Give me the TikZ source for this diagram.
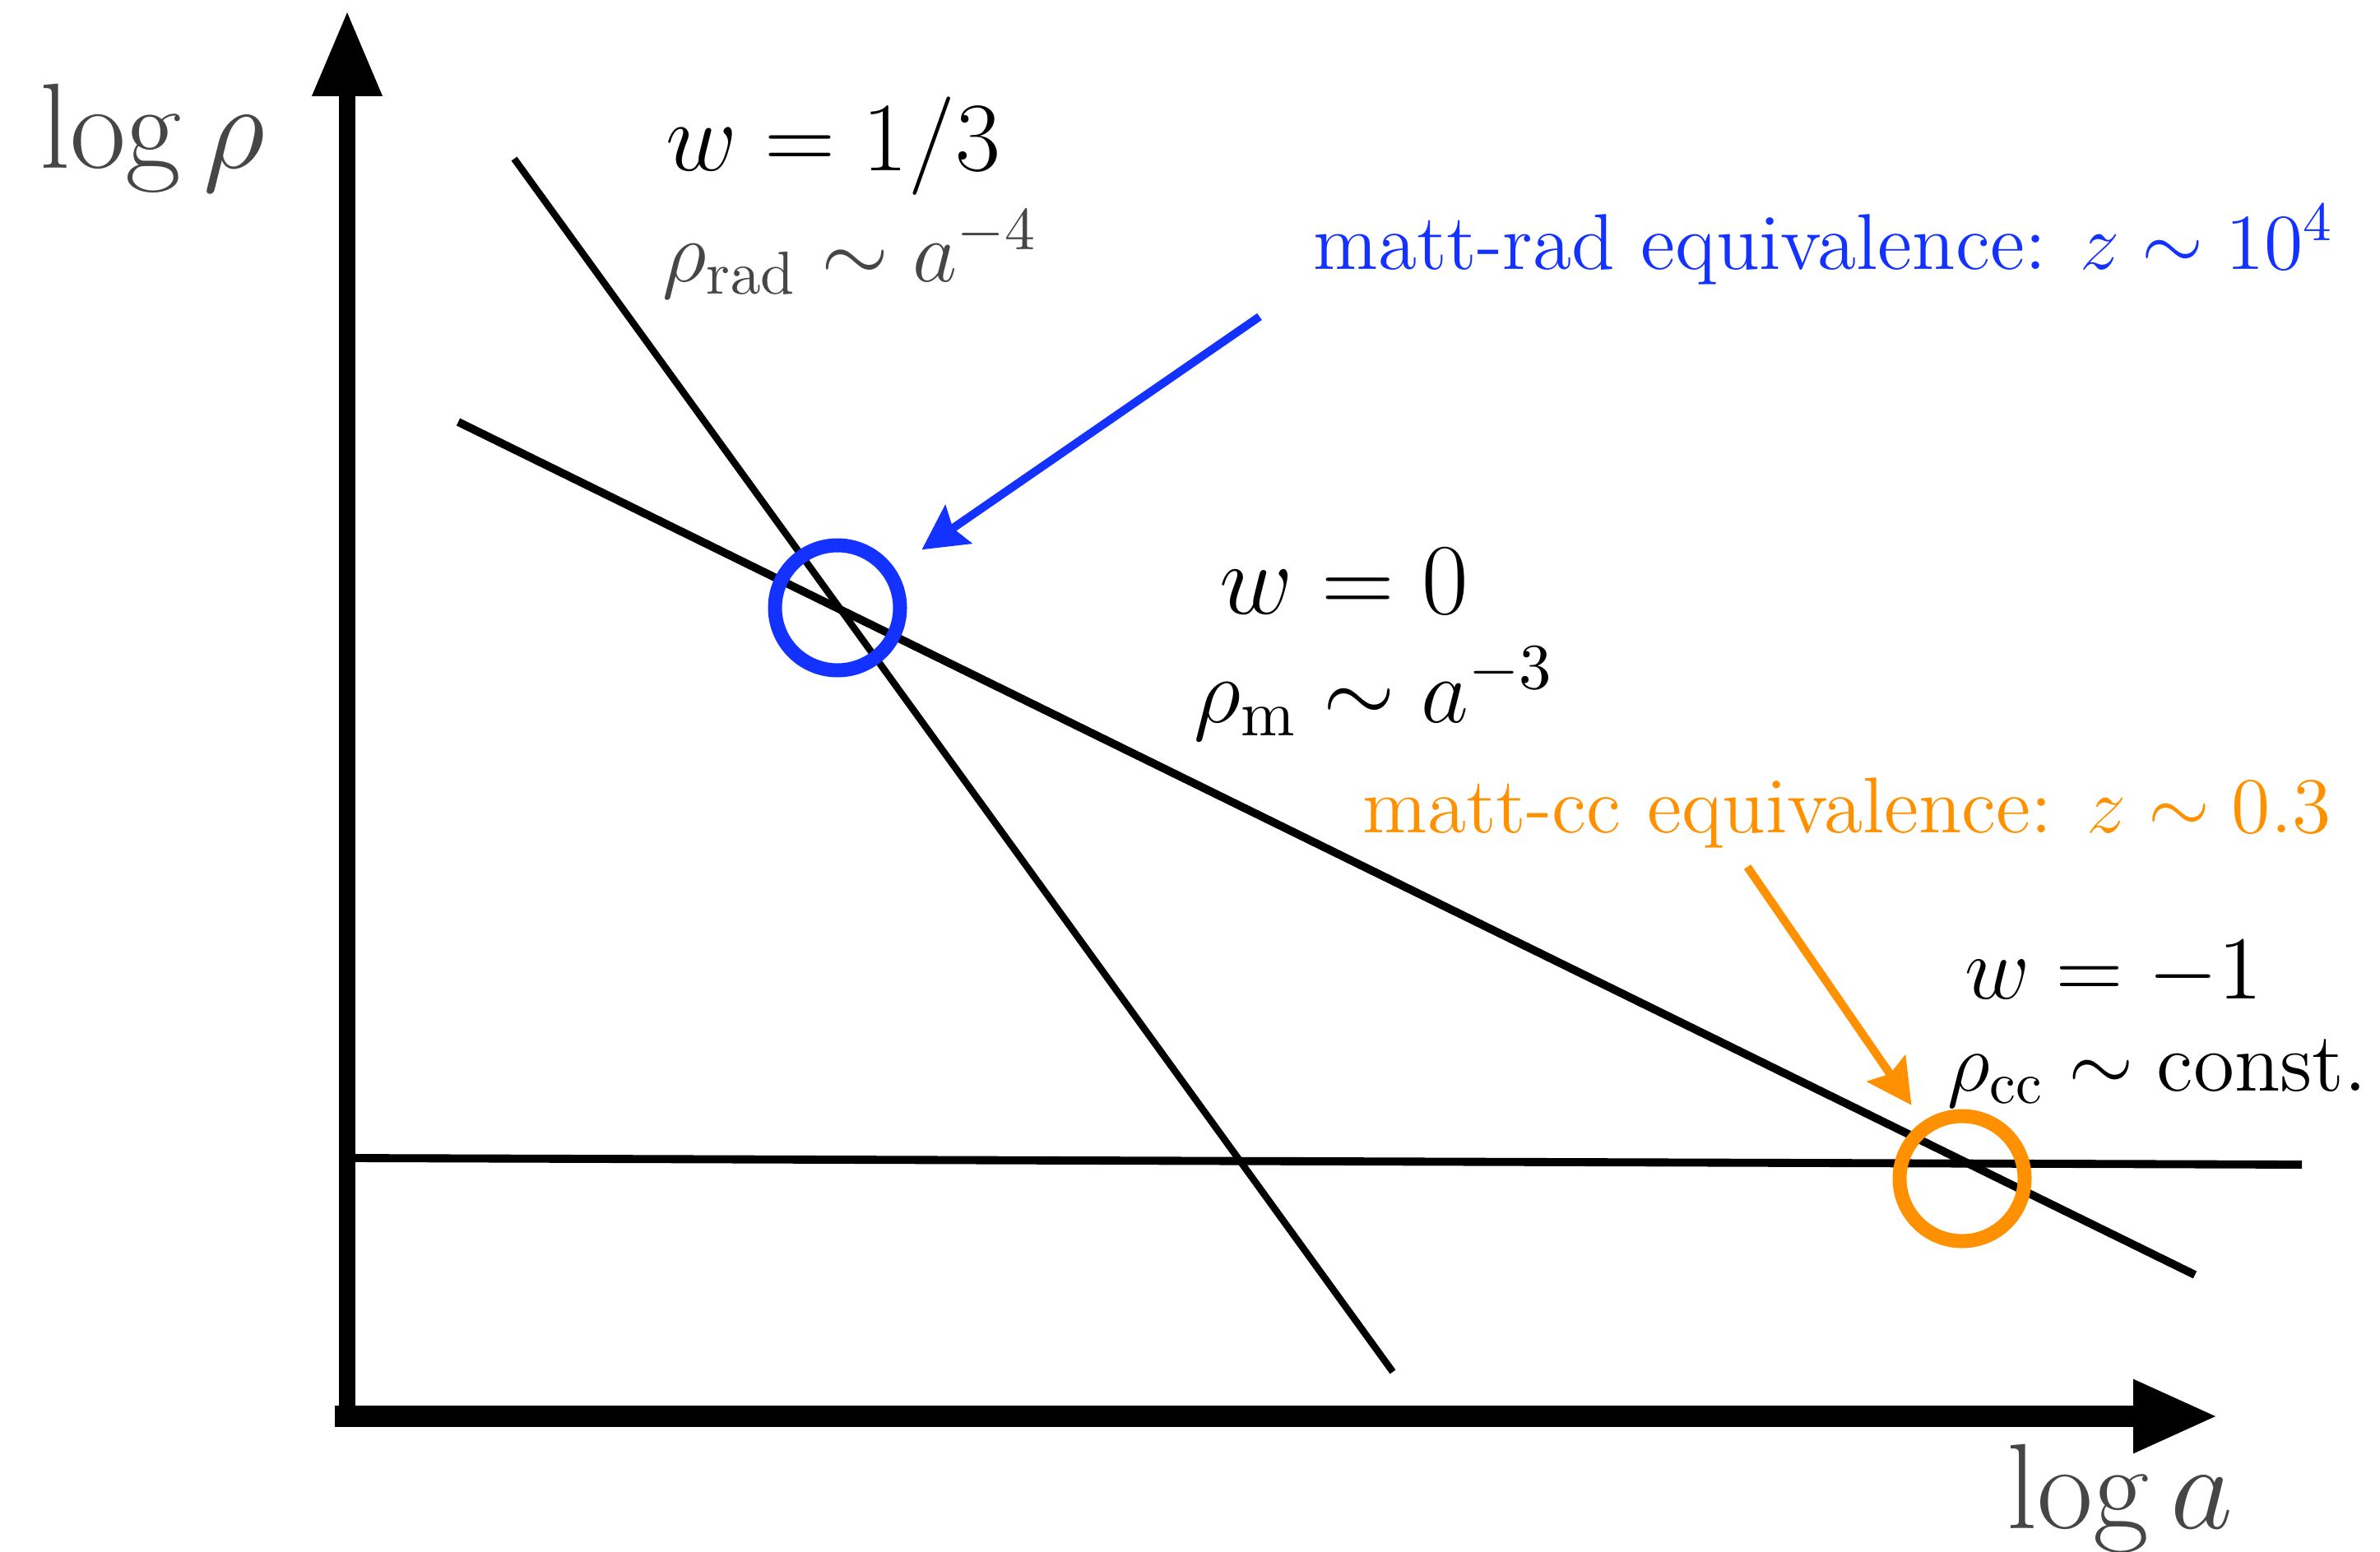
\documentclass[tikz,border=0pt]{standalone}
\usepackage{fix-cm}
\usepackage{amsmath}
\usetikzlibrary{arrows.meta}
\definecolor{eqblue}{RGB}{20,50,255}
\definecolor{eqorange}{RGB}{255,145,0}
\definecolor{axisgray}{RGB}{70,70,70}

\begin{document}
\begin{tikzpicture}[
    every node/.style={inner sep=0pt},
    axislabel/.style={text=axisgray, font=\fontsize{21}{25}\selectfont, anchor=base},
    wlabel/.style={font=\fontsize{17}{20}\selectfont, anchor=base},
    rholabel/.style={font=\fontsize{14.5}{17}\selectfont, anchor=base west},
    eqlabel/.style={font=\fontsize{13.7}{16}\selectfont, anchor=base west},
    marker/.style={circle, draw, line width=0.085cm, minimum size=0.76cm},
    eqarrow/.style={-{Stealth[length=0.27cm, width=0.28cm, inset=0.04cm]}, line width=0.05cm},
    era/.style={line width=1.4pt}
]
    \useasboundingbox (0,0) rectangle (14.465,9.43);

    \coordinate (yfoot) at (2.11,0.76);
    \coordinate (ytip) at (2.11,9.365);
    \coordinate (xfoot) at (2.035,0.82);
    \coordinate (xtip) at (13.485,0.82);
    \draw[line width=0.1cm, -{Triangle[length=0.52cm, width=0.4cm]}] (yfoot) -- (ytip);
    \draw[line width=0.13cm, -{Triangle[length=0.52cm, width=0.41cm]}] (xfoot) -- (xtip);

    \node[axislabel] (logrho) at (0.925,8.405) {$\log\rho$};
    \node[axislabel] (loga) at (12.885,0.14) {$\log a$};

    \coordinate (radtop) at (3.125,8.465);
    \coordinate (radbot) at (8.465,1.09);
    \coordinate (mtop) at (2.785,6.865);
    \coordinate (mbot) at (13.34,1.68);
    \coordinate (ccleft) at (2.14,2.39);
    \coordinate (ccright) at (13.99,2.35);
    \draw[era, line width=1.2pt] (radtop) -- (radbot);
    \draw[era] (mtop) -- (mbot);
    \draw[era] (ccleft) -- (ccright);

    \node[wlabel] (wrad) at (5.065,8.39) {$w = 1/3$};
    \node[rholabel, text=axisgray, font=\fontsize{15}{18}\selectfont] (rhorad) at (4.02,7.72) {$\rho_{\mathrm{rad}} \sim a^{-4}$};
    \node[wlabel, font=\fontsize{17.5}{20}\selectfont] (wm) at (8.17,5.7) {$w = 0$};
    \node[rholabel, font=\fontsize{16}{19}\selectfont] (rhom) at (7.25,5.04) {$\rho_{\mathrm{m}} \sim a^{-3}$};
    \node[wlabel, font=\fontsize{15.5}{18}\selectfont] (wcc) at (12.845,3.36) {$w = -1$};
    \node[rholabel] (rhocc) at (11.83,2.8) {$\rho_{\mathrm{cc}} \sim \text{const.}$};

    \node[marker, eqblue] (radcirc) at (5.09,5.735) {};
    \node[marker, eqorange] (cccirc) at (11.925,2.265) {};

    \node[eqlabel, text=eqblue] (radeq) at (7.975,7.795) {matt-rad equivalence: $z \sim 10^4$};
    \node[eqlabel, text=eqorange] (cceq) at (8.275,4.37) {matt-cc equivalence: $z \sim 0.3$};

    \coordinate (radtail) at (7.655,7.505);
    \coordinate (cctail) at (10.62,4.16);
    \draw[eqarrow, eqblue, shorten >=0.2cm] (radtail) -- (radcirc);
    \draw[eqarrow, eqorange, shorten >=0.12cm] (cctail) -- (cccirc);
\end{tikzpicture}
\end{document}
